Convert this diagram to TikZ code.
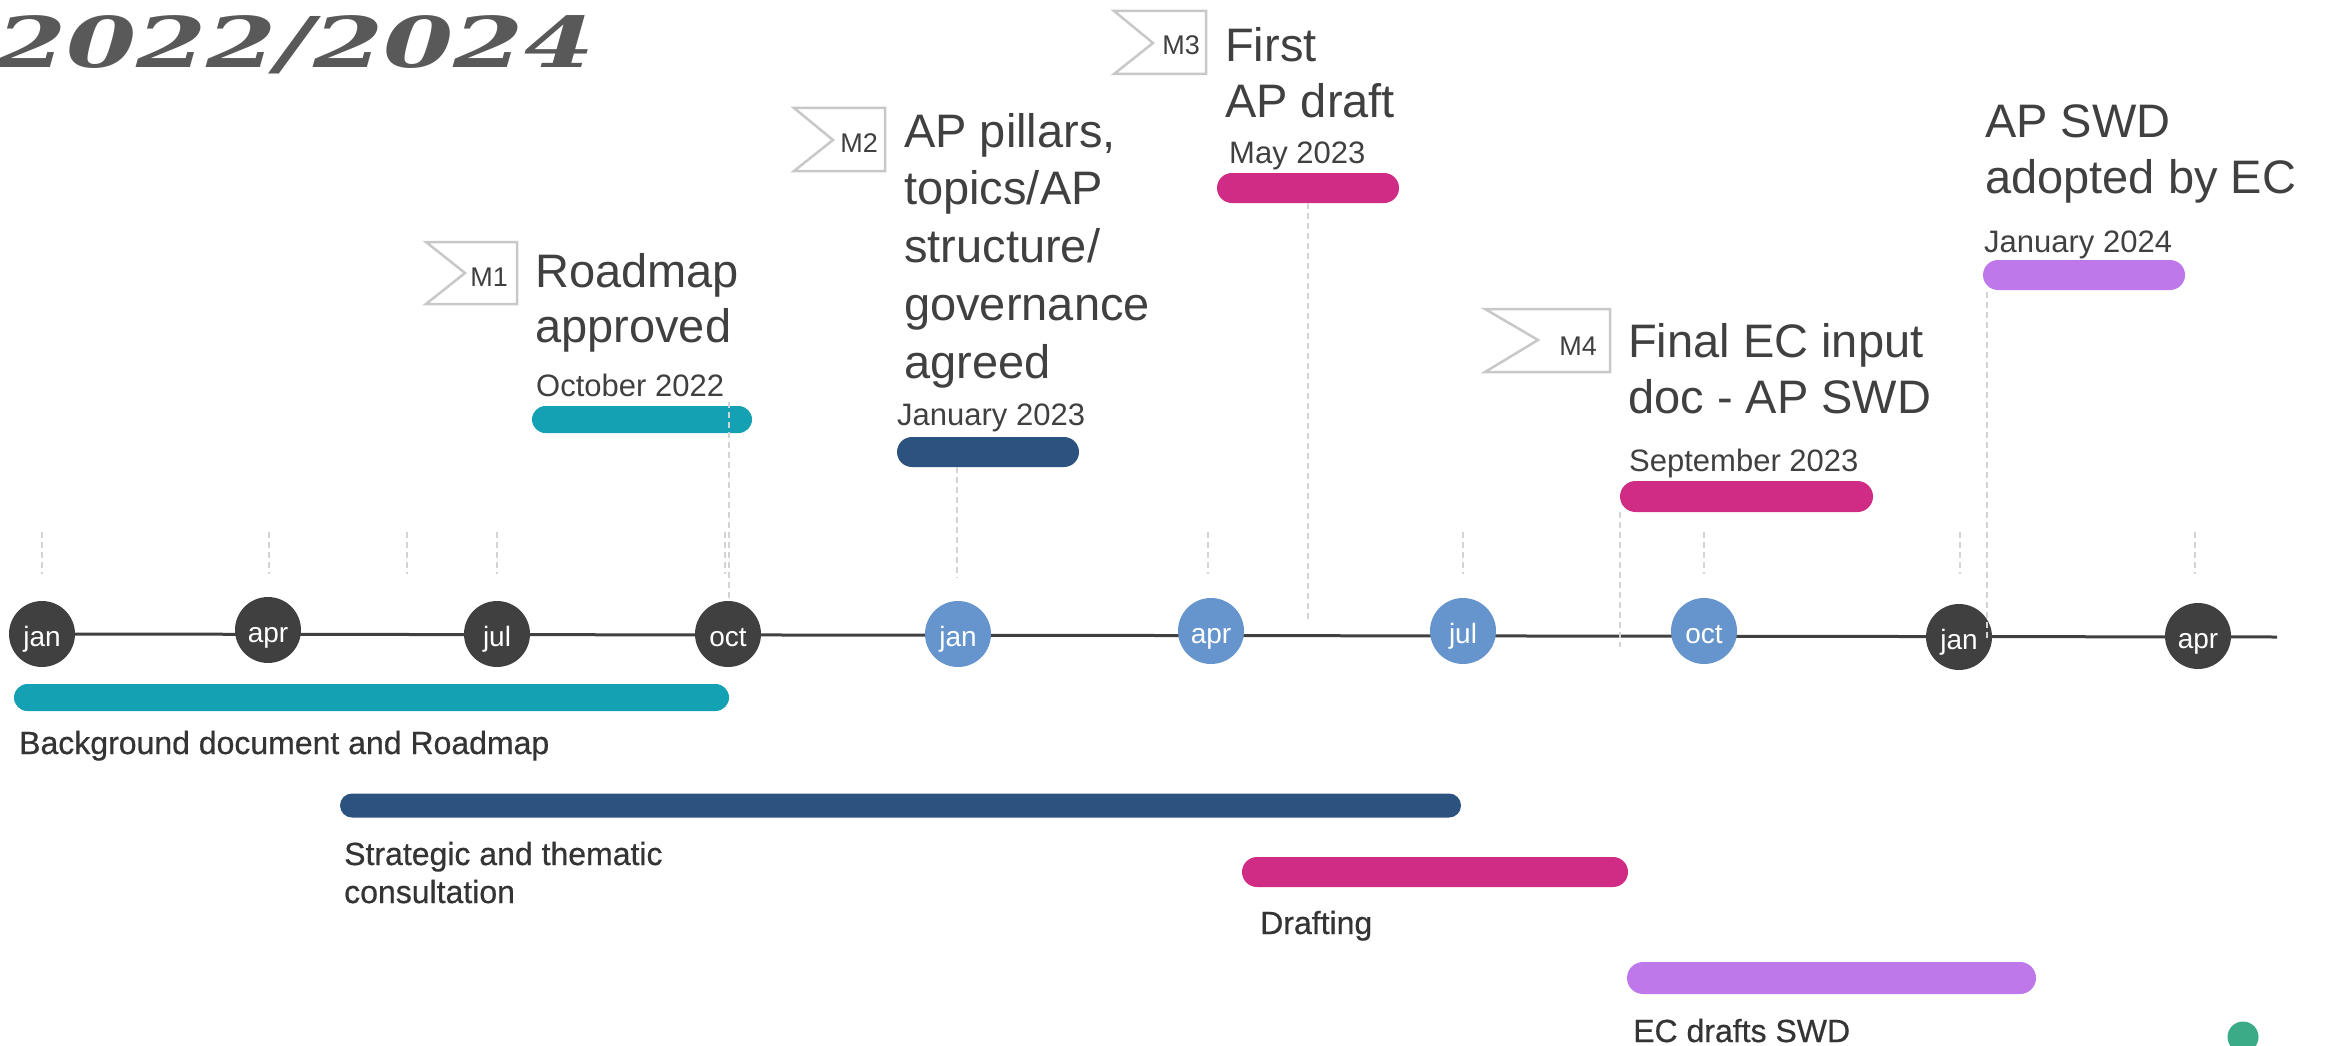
\documentclass[tikz,border=0pt]{standalone}
\usepackage{fontspec}
\setmainfont{Liberation Sans}
\newfontfamily\titlefont{DejaVu Serif}
\newfontfamily\lblfont{Liberation Sans}[FakeBold=0.6]
\usepackage{graphicx}
\usetikzlibrary{backgrounds}
\definecolor{txt}{RGB}{64,64,64}
\definecolor{lbltxt}{RGB}{52,52,52}
\definecolor{darkc}{RGB}{64,64,64}
\definecolor{lightc}{RGB}{102,149,205}
\definecolor{tealc}{RGB}{20,161,180}
\definecolor{navyc}{RGB}{44,82,127}
\definecolor{pinkc}{RGB}{208,44,133}
\definecolor{purplec}{RGB}{191,120,234}
\definecolor{gridc}{RGB}{212,212,212}
\definecolor{flagc}{RGB}{200,200,200}
\definecolor{greenc}{RGB}{58,170,135}
\definecolor{titlec}{RGB}{89,89,89}
\tikzset{
  month/.style={circle, minimum size=66pt, inner sep=0pt, text=white,
    font=\fontsize{28}{28}\selectfont, text height=24pt, text depth=0pt},
  darkm/.style={month, fill=darkc},
  lightm/.style={month, fill=lightc},
  barbox/.style={rectangle, inner sep=0pt, draw=none},
  bigtext/.style={anchor=base west, inner sep=0pt, text=txt, font=\fontsize{47}{56}\selectfont},
  datetext/.style={anchor=base west, inner sep=0pt, text=txt, font=\fontsize{31}{31}\selectfont},
  lbltext/.style={anchor=base west, inner sep=0pt, text=lbltxt, font=\lblfont\fontsize{32}{38}\selectfont},
  mtext/.style={anchor=base east, inner sep=0pt, text=txt, font=\fontsize{27}{27}\selectfont},
  flag/.style={draw=flagc, line width=2.5pt, fill=white, line join=miter},
  gridline/.style={draw=gridc, line width=1.5pt, dash pattern=on 6pt off 4pt},
  axisline/.style={draw=darkc, line width=3pt}
}
\begin{document}
\begin{tikzpicture}[x=1pt, y=-1pt]
\useasboundingbox (0,0) rectangle (2325,1046);
\clip (0,0) rectangle (2325,1046);

% title
\node[anchor=base west, inner sep=0pt, text=titlec,
  font=\titlefont\bfseries\itshape\fontsize{70}{70}\selectfont] (title) at (-4,68) {\scalebox{1.44}[1]{2022/2024}};

% month circles
\node[darkm] (m1) at (42,634) {jan};
\node[darkm] (m2) at (268,630) {apr};
\node[darkm] (m3) at (497,634) {jul};
\node[darkm] (m4) at (728,634) {oct};
\node[lightm] (m5) at (958,634) {jan};
\node[lightm] (m6) at (1211,631) {apr};
\node[lightm] (m7) at (1463,631) {jul};
\node[lightm] (m8) at (1704,631) {oct};
\node[darkm] (m9) at (1959,637) {jan};
\node[darkm] (m10) at (2198,636) {apr};
\coordinate (axisend) at (2277,637);
\begin{scope}[on background layer]
  \draw[axisline] (m1.center) -- (axisend);
\end{scope}

% milestone bars (top)
\node[barbox, fill=tealc, minimum width=220pt, minimum height=27pt, rounded corners=13.5pt] (bOct) at (642,419.5) {};
\node[barbox, fill=navyc, minimum width=182pt, minimum height=30pt, rounded corners=15pt] (bJan23) at (988,452) {};
\node[barbox, fill=pinkc, minimum width=182pt, minimum height=30pt, rounded corners=15pt] (bMay) at (1308,188) {};
\node[barbox, fill=pinkc, minimum width=253pt, minimum height=31pt, rounded corners=15.5pt] (bSep) at (1746.5,496.5) {};
\node[barbox, fill=purplec, minimum width=202pt, minimum height=30pt, rounded corners=15pt] (bJan24) at (2084,275) {};

% phase bars (bottom)
\node[barbox, fill=tealc, minimum width=715pt, minimum height=27pt, rounded corners=13.5pt] (pBack) at (371.5,697.5) {};
\node[barbox, fill=navyc, minimum width=1121pt, minimum height=24pt, rounded corners=12pt] (pStrat) at (900.5,805.5) {};
\node[barbox, fill=pinkc, minimum width=386pt, minimum height=30pt, rounded corners=15pt] (pDraft) at (1435,872) {};
\node[barbox, fill=purplec, minimum width=409pt, minimum height=32pt, rounded corners=16pt] (pEC) at (1831.5,978) {};

% short dashed guides above months
\foreach \gx in {42,269,407,497,725,1208,1463,1704,1960,2195} {
  \draw[gridline] (\gx,532) -- (\gx,574);
}
% tall dashed guides from milestone bars
\coordinate (d1a) at (729,402);  \coordinate (d1b) at (729,600);
\coordinate (d2a) at (957,467);  \coordinate (d2b) at (957,578);
\coordinate (d3a) at (1308,203); \coordinate (d3b) at (1308,623);
\coordinate (d4a) at (1620,512); \coordinate (d4b) at (1620,647);
\coordinate (d5a) at (1987,292); \coordinate (d5b) at (1987,638);
\draw[gridline] (d1a) -- (d1b);
\draw[gridline] (d2a) -- (d2b);
\draw[gridline] (d3a) -- (d3b);
\draw[gridline] (d4a) -- (d4b);
\draw[gridline] (d5a) -- (d5b);

% flags
\draw[flag] (426,242) -- (517,242) -- (517,304) -- (426,304) -- (465,273) -- cycle;
\draw[flag] (794,108) -- (885,108) -- (885,171) -- (794,171) -- (833,140) -- cycle;
\draw[flag] (1114,11) -- (1206,11) -- (1206,74) -- (1114,74) -- (1153,43) -- cycle;
\draw[flag] (1485,309) -- (1610,309) -- (1610,372) -- (1485,372) -- (1538,340) -- cycle;
\node[mtext] (f1) at (508,286) {M1};
\node[mtext] (f2) at (878,152) {M2};
\node[mtext] (f3) at (1200,55) {M3};
\node[mtext] (f4) at (1597,355) {M4};

% milestone texts
\node[bigtext, font=\fontsize{47}{55}\selectfont] (t1) at (535,287) {\vtop{\hbox{Roadmap}\hbox{approved}}};
\node[bigtext, font=\fontsize{47}{57.75}\selectfont] (t2) at (904,147) {\vtop{\hbox{AP pillars,}\hbox{topics/AP}\hbox{structure/}\hbox{governance}\hbox{agreed}}};
\node[bigtext] (t3) at (1225,62) {\vtop{\hbox{First}\hbox{AP draft}}};
\node[bigtext] (t4) at (1628,357) {\vtop{\hbox{Final EC input}\hbox{doc - AP SWD}}};
\node[bigtext] (t5) at (1985,137) {\vtop{\hbox{AP SWD}\hbox{adopted by EC}}};

% dates
\node[datetext] (dt1) at (536,396) {October 2022};
\node[datetext] (dt2) at (897,425) {January 2023};
\node[datetext] (dt3) at (1229,163) {May 2023};
\node[datetext] (dt4) at (1629,471) {September 2023};
\node[datetext] (dt5) at (1984,252) {January 2024};

% phase labels
\node[lbltext] (l1) at (19,754) {Background document and Roadmap};
\node[lbltext] (l2) at (344,865) {\vtop{\hbox{Strategic and thematic}\hbox{consultation}}};
\node[lbltext] (l3) at (1260,934) {Drafting};
\node[lbltext] (l4) at (1633,1042) {EC drafts SWD};

% green dot
\node[circle, fill=greenc, minimum size=31pt, inner sep=0pt] (dot) at (2243,1037) {};
\end{tikzpicture}
\end{document}
